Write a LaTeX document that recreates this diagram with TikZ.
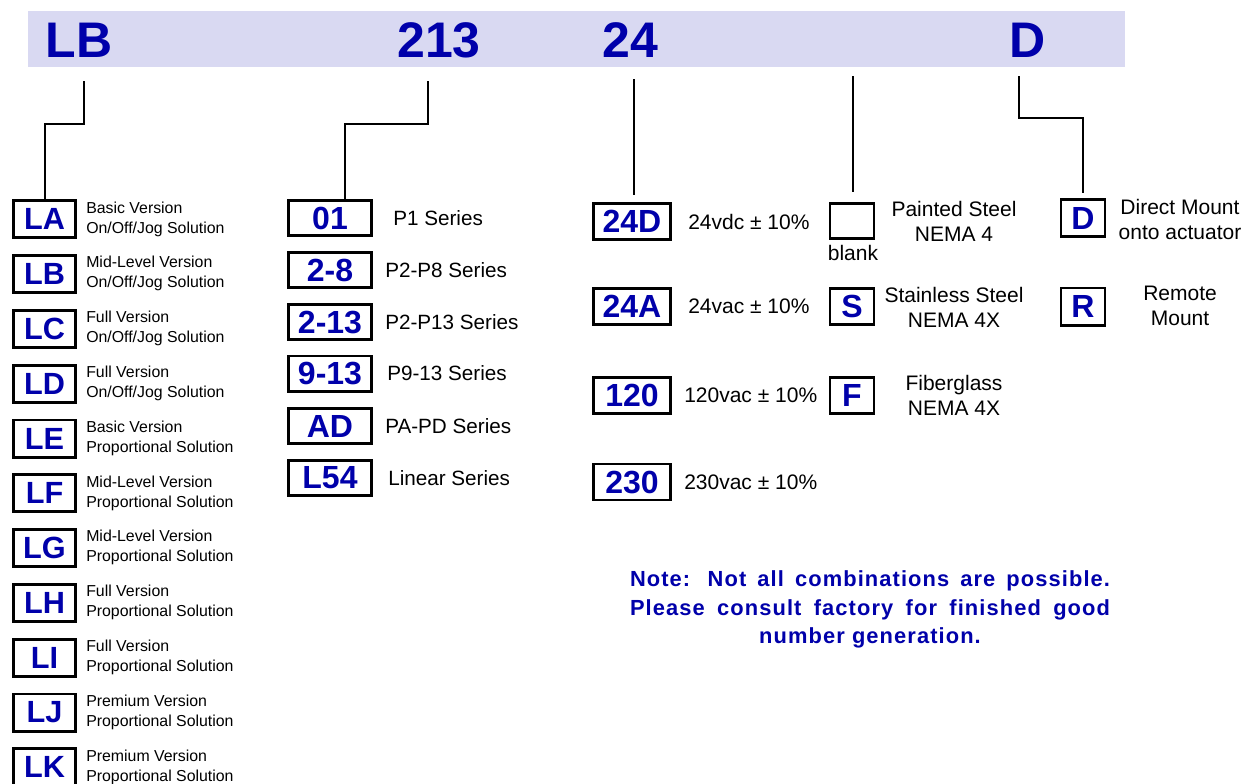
\documentclass[tikz,border=0pt]{standalone}
\usepackage{fontspec}
\setmainfont{Liberation Sans}
\newfontfamily\notefont[LetterSpace=5]{Liberation Sans}
\definecolor{codeblue}{RGB}{0,0,170}
\definecolor{bannerfill}{RGB}{217,217,242}
\newcommand\onoffjog{On/Off/Jog Solution}
\newcommand\propsol{Proportional Solution}
\tikzset{
  conn/.style={line width=1.5pt, draw=black},
  bantext/.style={font=\fontsize{37.5}{40}\selectfont\bfseries, text=codeblue, inner sep=0pt, anchor=base west},
  codebox/.style={draw=black, line width=2.2pt, inner sep=0pt, text=codeblue, font=\fontsize{24}{26}\selectfont\bfseries},
  lbox/.style={codebox, minimum width=46.2pt, minimum height=27.8pt, font=\fontsize{23}{25}\selectfont\bfseries},
  mbox/.style={codebox, minimum width=62.3pt, minimum height=26.3pt},
  vbox/.style={codebox, minimum width=57.5pt, minimum height=27pt},
  ebox/.style={codebox, minimum width=33pt, minimum height=26.6pt},
  dbox/.style={codebox, minimum width=33pt, minimum height=27.8pt},
  ldesc/.style={anchor=west, inner sep=0pt, align=left, font=\fontsize{11.9}{15}\selectfont},
  mlabel/.style={anchor=west, inner sep=0pt, font=\fontsize{15.5}{18}\selectfont},
  vlabel/.style={anchor=west, inner sep=0pt, font=\fontsize{15.75}{18}\selectfont},
  rlabel/.style={inner sep=0pt, align=center, font=\fontsize{15.75}{18.75}\selectfont},
  notetext/.style={inner sep=0pt, align=center, text=codeblue, font=\fontsize{16.4}{21.2}\selectfont\notefont\bfseries}
}
\begin{document}
\begin{tikzpicture}[x=0.75pt,y=-0.75pt]
\useasboundingbox (0,0) rectangle (1245,783);
% banner
\fill[bannerfill] (28,11) rectangle (1125,67);
\node[bantext] (tLB) at (45.5,57.3) {LB};
\node[bantext] (t213) at (397,57.3) {213};
\node[bantext] (t24) at (602,57.3) {24};
\node[bantext] (tD) at (1009,57.3) {D};
% connector start points
\coordinate (cLB) at (84,81);
\coordinate (c213) at (427.5,81);
\coordinate (c24) at (633.5,79);
\coordinate (cEnc) at (852.5,76);
\coordinate (cMnt) at (1019,76);
\coordinate (jLB) at (44.5,123.5);
\coordinate (j213) at (345,123.5);
\coordinate (jMnt) at (1083,118.3);
% left column
\foreach \c/\la/\lb [count=\i from 0] in {
  LA/Basic Version/\onoffjog,
  LB/Mid-Level Version/\onoffjog,
  LC/Full Version/\onoffjog,
  LD/Full Version/\onoffjog,
  LE/Basic Version/\propsol,
  LF/Mid-Level Version/\propsol,
  LG/Mid-Level Version/\propsol,
  LH/Full Version/\propsol,
  LI/Full Version/\propsol,
  LJ/Premium Version/\propsol,
  LK/Premium Version/\propsol}{
  \node[lbox] (b\c) at (44.5,219.3+54.8*\i) {\c};
  \node[ldesc] (d\c) at (86,219+54.8*\i) {\la\\\lb};
}
% middle column
\node[mbox] (b01) at (330,218) {01};
\node[mlabel] (l01) at (393,218) {P1 Series};
\node[mbox] (b28) at (330,270) {2-8};
\node[mlabel] (l28) at (385,270) {P2-P8 Series};
\node[mbox] (b213) at (330,322) {2-13};
\node[mlabel] (l213) at (385,322) {P2-P13 Series};
\node[mbox] (b913) at (330,373.5) {9-13};
\node[mlabel] (l913) at (387,373.5) {P9-13 Series};
\node[mbox] (bAD) at (330,426) {AD};
\node[mlabel] (lAD) at (385,426) {PA-PD Series};
\node[mbox] (bL54) at (330,478) {L54};
\node[mlabel] (lL54) at (388,478) {Linear Series};
% voltage column
\node[vbox] (b24D) at (632,221.5) {24D};
\node[vlabel] (l24D) at (688,221.5) {24vdc ± 10\%};
\node[vbox] (b24A) at (632,306.5) {24A};
\node[vlabel] (l24A) at (688,306.5) {24vac ± 10\%};
\node[vbox] (b120) at (632,395.5) {120};
\node[vlabel] (l120) at (684,395.5) {120vac ± 10\%};
\node[vbox] (b230) at (632,482) {230};
\node[vlabel] (l230) at (684,482) {230vac ± 10\%};
% enclosure column
\node[ebox] (bBlank) at (852,221) {};
\node[rlabel] (tblank) at (853,252.5) {blank};
\node[rlabel] (lBlank) at (954,221) {Painted Steel\\NEMA 4};
\node[ebox] (bS) at (852,306.5) {S};
\node[rlabel] (lS) at (954,307.3) {Stainless Steel\\NEMA 4X};
\node[ebox] (bF) at (852,395.5) {F};
\node[rlabel] (lF) at (954,395.3) {Fiberglass\\NEMA 4X};
% mount column
\node[dbox] (bD) at (1083,218) {D};
\node[rlabel] (lD) at (1180,219) {Direct Mount\\onto actuator};
\node[dbox] (bR) at (1083,306.5) {R};
\node[rlabel] (lR) at (1180,306.2) {Remote\\Mount};
% note
\node[notetext] (note) at (870,609.5) {\makebox[360pt][s]{Note: Not all combinations are possible.}\\\makebox[360pt][s]{Please consult factory for finished good}\\number generation.};
% connectors
\draw[conn] (cLB) |- (jLB) -- (bLA.north);
\draw[conn] (c213) |- (j213) -- (j213 |- b01.north);
\draw[conn, shorten >=5pt] (c24) -- (c24 |- b24D.north);
\draw[conn, shorten >=7pt] (cEnc) -- (cEnc |- bBlank.north);
\draw[conn, shorten >=3.6pt] (cMnt) |- (jMnt) -- (jMnt |- bD.north);
\end{tikzpicture}
\end{document}
